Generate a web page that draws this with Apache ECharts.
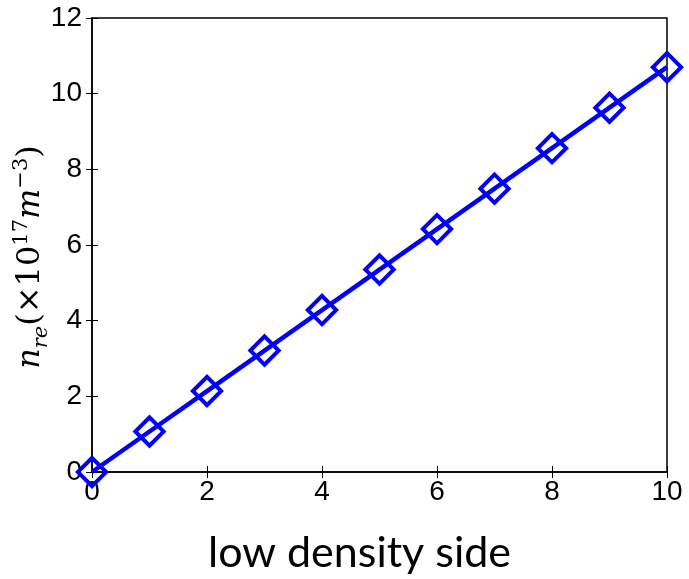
<!DOCTYPE html>
<html>
<head>
<meta charset="utf-8">
<script src="https://cdn.jsdelivr.net/npm/echarts@6/dist/echarts.min.js"></script>
<style>
  html, body { margin: 0; padding: 0; background: #fff; }
  #main { width: 689px; height: 579px; }
</style>
</head>
<body>
<div id="main"></div>
<script>
var xValues = [0, 1, 2, 3, 4, 5, 6, 7, 8, 9, 10];
var nre = [0, 1.07, 2.14, 3.21, 4.28, 5.35, 6.42, 7.49, 8.56, 9.63, 10.7];

var myChart = echarts.init(document.getElementById('main'));

var tickFont = { fontFamily: 'Liberation Sans', fontSize: 28, color: '#000' };

var option = {
  animation: false,
  grid: { left: 92, right: 22, top: 18, bottom: 107, outerBoundsMode: 'none', show: true, borderColor: '#000', borderWidth: 1.5 },
  xAxis: [{
    type: 'value', min: 0, max: 10, interval: 2,
    name: 'low density side', nameLocation: 'middle', nameGap: 60, nameMoveOverlap: false,
    nameTextStyle: { fontFamily: 'Lato', fontSize: 43, color: '#000', padding: [0, 40, 0, 0] },
    axisLine: { lineStyle: { color: '#000', width: 1.5 } },
    axisTick: { inside: true, length: 6, lineStyle: { color: '#000' } },
    axisLabel: Object.assign({ margin: 6 }, tickFont),
    splitLine: { show: false }
  }, {
    type: 'value', min: 0, max: 10, interval: 2, position: 'top',
    axisLine: { show: false },
    axisTick: { inside: true, length: 6, lineStyle: { color: '#000' } },
    axisLabel: { show: false }, splitLine: { show: false }
  }],
  yAxis: [{
    type: 'value', min: 0, max: 12, interval: 2,
    name: '{it|n}{sub|re}{n|(×10}{sup|17}{it|m}{sup|−3}{n|)}',
    nameLocation: 'middle', nameGap: 38, nameMoveOverlap: false,
    nameTextStyle: {
      padding: [0, 24, 0, 0],
      rich: {
        it: { fontFamily: 'DejaVu Serif', fontStyle: 'italic', fontSize: 32, color: '#000', lineHeight: 46, verticalAlign: 'middle' },
        n: { fontFamily: 'DejaVu Serif', fontSize: 32, color: '#000', lineHeight: 46, verticalAlign: 'middle' },
        sub: { fontFamily: 'DejaVu Serif', fontStyle: 'italic', fontSize: 21, color: '#000', lineHeight: 46, verticalAlign: 'bottom', padding: [0, 0, 2, 0] },
        sup: { fontFamily: 'DejaVu Serif', fontSize: 21, color: '#000', lineHeight: 46, verticalAlign: 'top', padding: [3, 0, 0, 0] }
      }
    },
    axisLine: { lineStyle: { color: '#000', width: 1.5 } },
    axisTick: { inside: true, length: 6, lineStyle: { color: '#000' } },
    axisLabel: Object.assign({ margin: 10 }, tickFont),
    splitLine: { show: false }
  }, {
    type: 'value', min: 0, max: 12, interval: 2, position: 'right',
    axisLine: { show: false },
    axisTick: { inside: true, length: 6, lineStyle: { color: '#000' } },
    axisLabel: { show: false }, splitLine: { show: false }
  }],
  series: [{
    type: 'line',
    data: xValues.map(function (x, i) { return [x, nre[i]]; }),
    lineStyle: { color: '#0000ff', width: 4.5 },
    symbol: 'rect', symbolSize: 20, symbolRotate: 45,
    itemStyle: { color: 'rgba(0,0,0,0)', borderColor: '#0000ff', borderWidth: 4 },
    clip: false
  }]
};

myChart.setOption(option);
</script>
</body>
</html>
